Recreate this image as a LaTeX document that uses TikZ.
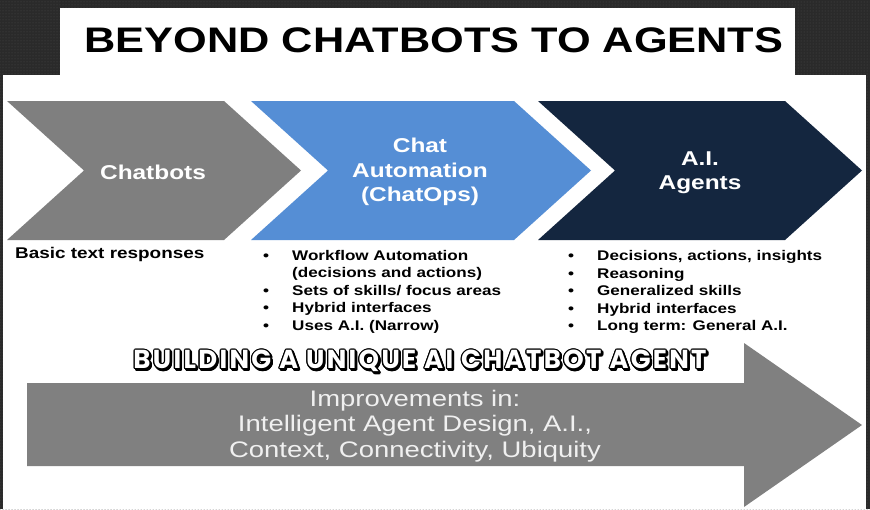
\documentclass[tikz,border=0pt]{standalone}
\usepackage{fontspec}
\setmainfont[FakeStretch=1.22]{Liberation Sans}
\newfontfamily\outlinefont[LetterSpace=9]{Poppins}
\usetikzlibrary{calc,patterns}
\definecolor{bggrey}{HTML}{2A2A2A}
\definecolor{chevgrey}{HTML}{7F7F7F}
\definecolor{chevblue}{HTML}{558ED5}
\definecolor{chevnavy}{HTML}{14263F}
\definecolor{arrowgrey}{HTML}{808080}

\newcommand{\blt}[1]{\makebox[29pt][l]{\textbullet}#1}
\newcommand{\buildtitle}{BUILDING A UNIQUE AI CHATBOT AGENT}

\begin{document}
\begin{tikzpicture}[x=1pt,y=-1pt,
    chevtext/.style={text=white,align=center,font=\fontsize{20}{24.5}\selectfont\bfseries},
    listtext/.style={anchor=base west,inner sep=0pt,align=left,font=\fontsize{14}{17.5}\selectfont\bfseries},
    buildtext/.style={inner sep=0pt,font=\fontsize{26}{30}\selectfont\outlinefont\bfseries}]
    \useasboundingbox (0,0) rectangle (870,509);

    % background and white panels
    \fill[bggrey] (0,0) rectangle (870,509);
    \fill[pattern=dots,pattern color=gray!40!bggrey] (0,0) rectangle (870,509);
    \fill[white] (60,8) rectangle (795,76);
    \fill[white] (3,75) rectangle (866,509);

    \node[font=\fontsize{35.5}{40}\selectfont\bfseries] (title) at (434,40.5) {BEYOND CHATBOTS TO AGENTS};

    % chevrons, point depth 77
    \fill[chevgrey] (7,101) -- (224,101) -- (301,170.5) -- (224,240) -- (7,240) -- (84,170.5) -- cycle;
    \fill[chevblue] (251,101) -- (514,101) -- (591,170.5) -- (514,240) -- (251,240) -- (328,170.5) -- cycle;
    \fill[chevnavy] (538,101) -- (785,101) -- (862,170.5) -- (785,240) -- (538,240) -- (615,170.5) -- cycle;

    \node[chevtext] (chatbots) at (153,172) {Chatbots};
    \node[chevtext] (chatops) at (420,172) {Chat\\Automation\\(ChatOps)};
    \node[chevtext] (agents) at (700,172.5) {A.I.\\Agents};

    % texts under the chevrons (base = last line)
    \node[listtext,font=\fontsize{15.5}{18}\selectfont\bfseries] (basic) at (15,258.5) {Basic text responses};
    \node[listtext] (opslist) at (263,330) {\blt{Workflow Automation}\\
        \hspace*{29pt}(decisions and actions)\\
        \blt{Sets of skills/ focus areas}\\
        \blt{Hybrid interfaces}\\
        \blt{Uses A.I. (Narrow)}};
    \node[listtext] (agentlist) at (568,330.5) {\blt{Decisions, actions, insights}\\
        \blt{Reasoning}\\
        \blt{Generalized skills}\\
        \blt{Hybrid interfaces}\\
        \blt{Long term: General A.I.}};

    % big arrow
    \fill[arrowgrey] (27,383) -- (744,383) -- (744,343) -- (862,425) -- (744,507) -- (744,466) -- (27,466) -- cycle;
    \node[text=white!94!black,align=center,font=\fontsize{22.5}{25.5}\selectfont] (improve) at (415,426)
        {Improvements in:\\Intelligent Agent Design, A.I.,\\Context, Connectivity, Ubiquity};

    % outlined heading with shadow
    \coordinate (buildc) at (420,361);
    \foreach \a [count=\i] in {0,30,...,330} {
        \node[buildtext,text=black] (bshadow\i) at ($(buildc)+(\a:1.2)+(1.4,1.4)$) {\buildtitle};
        \node[buildtext,text=black] (bline\i) at ($(buildc)+(\a:1.2)$) {\buildtitle};
    }
    \node[buildtext,text=white] (build) at (buildc) {\buildtitle};
\end{tikzpicture}
\end{document}
